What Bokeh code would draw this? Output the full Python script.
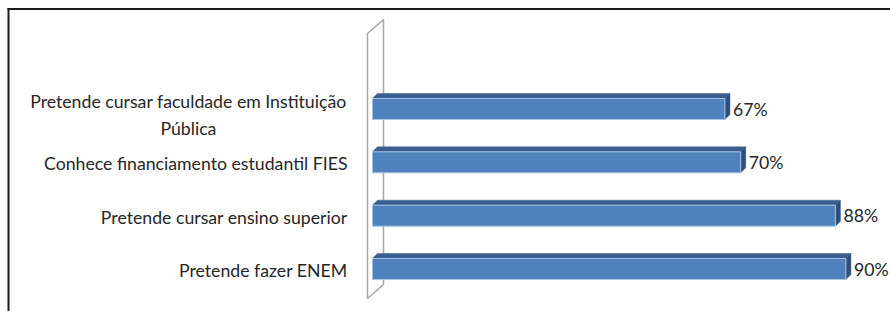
from bokeh.plotting import figure
from bokeh.models import Range1d
from bokeh.core.properties import value
from bokeh.embed import file_html
from bokeh.resources import INLINE

# ---- data (bottom to top) ----
categories = [
    "Pretende fazer ENEM",
    "Pretende cursar ensino superior",
    "Conhece financiamento estudantil FIES",
    "Pretende cursar faculdade em Instituição\nPública",
]
values = [90, 88, 70, 67]
value_labels = ["90%", "88%", "70%", "67%"]

# ---- layout ----
W, H = 890, 311
PX_X = 5.26          # pixels per percentage point
ZERO_X = 372         # pixel (in figure) of value 0
PX_Y = 53.33         # pixels per category step
ZERO_Y = 268.5       # pixel from top of first category centre

x_start = -ZERO_X / PX_X
x_end = (W - ZERO_X) / PX_X
y_start = -(H - ZERO_Y) / PX_Y
y_end = ZERO_Y / PX_Y

FONT = "Lato"
FS = "17.7px"
TXT = "#262626"

p = figure(width=W, height=H, x_range=Range1d(x_start, x_end), y_range=Range1d(y_start, y_end),
           output_backend="svg", toolbar_location=None, min_border=0,
           x_axis_type=None, y_axis_type=None)
p.grid.visible = False
p.outline_line_color = None
p.background_fill_color = "white"
p.border_fill_color = "white"

ys = list(range(len(categories)))
n = len(categories)

# ---- 3D side wall ----
dxw_l, dxw_r = -5 / PX_X, 11 / PX_X
wall_bot = -0.553
wall_top = (n - 1) + 1.416
wall_rise = 14 / PX_Y
p.patch([dxw_l, dxw_l, dxw_r, dxw_r],
        [wall_bot, wall_top, wall_top + wall_rise, wall_bot + wall_rise],
        fill_color="white", line_color="#A6A6A6", line_width=1.5)

# ---- 3D bars ----
h = 21 / PX_Y
ddx = 5 / PX_X
ddy = 5 / PX_Y
top_xs, top_ys, side_xs, side_ys = [], [], [], []
for y, v in zip(ys, values):
    top_xs.append([0, v, v + ddx, ddx])
    top_ys.append([y + h / 2, y + h / 2, y + h / 2 + ddy, y + h / 2 + ddy])
    side_xs.append([v, v, v + ddx, v + ddx])
    side_ys.append([y - h / 2, y + h / 2, y + h / 2 + ddy, y - h / 2 + ddy])

p.patches(top_xs, top_ys, fill_color="#3A5F8F", line_color="#3A5F8F", line_width=0.5)
p.patches(side_xs, side_ys, fill_color="#2E4F7A", line_color="#2E4F7A", line_width=0.5)
p.hbar(y=ys, left=0, right=values, height=h, fill_color="#4F81BD",
       line_color="#A9C2E3", line_width=1)

# ---- value labels ----
p.text(x=[v + 8 / PX_X for v in values], y=ys, text=value_labels,
       text_font=value(FONT), text_font_size=FS, text_color=TXT,
       text_align="left", text_baseline="middle")

# ---- category labels ----
single_y, single_t = [], []
multi_y, multi_t = [], []
for y, c in zip(ys, categories):
    if "\n" in c:
        multi_y.append(y - 0.11)
        multi_t.append(c)
    else:
        single_y.append(y - 0.03)
        single_t.append(c)
p.text(x=[-4.75] * len(single_t), y=single_y, text=single_t,
       text_font=value(FONT), text_font_size=FS, text_color=TXT,
       text_align="right", text_baseline="middle")
p.text(x=[-35.0] * len(multi_t), y=multi_y, text=multi_t,
       text_font=value(FONT), text_font_size=FS, text_color=TXT,
       text_align="center", text_baseline="middle", text_line_height=1.28)

# ---- frame lines (top and left, meeting at the corner) ----
fx = (8 - ZERO_X) / PX_X
fy = (ZERO_Y - 8.5) / PX_Y
p.segment(x0=[fx - 1 / PX_X, fx], y0=[fy, fy + 1 / PX_Y], x1=[x_end + 1, fx], y1=[fy, y_start - 1],
          line_color="#1A1A1A", line_width=2)

open("out.html", "w").write(file_html(p, INLINE))
